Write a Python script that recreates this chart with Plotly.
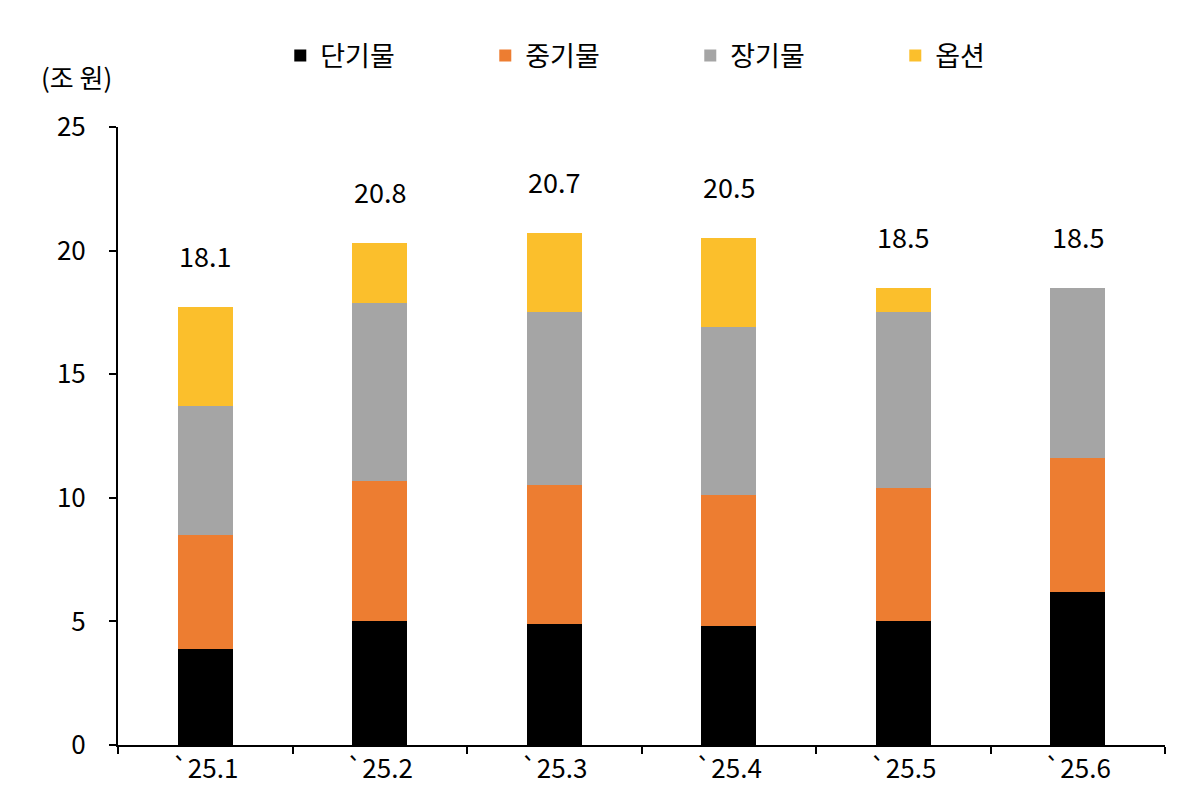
import plotly.graph_objects as go

months = ['`25.1', '`25.2', '`25.3', '`25.4', '`25.5', '`25.6']
short_term = [3.9, 5.0, 4.9, 4.8, 5.0, 6.2]
mid_term = [4.6, 5.7, 5.6, 5.3, 5.4, 5.4]
long_term = [5.2, 7.2, 7.0, 6.8, 7.1, 6.9]
options = [4.0, 2.4, 3.2, 3.6, 1.0, 0.0]
total_labels = ['18.1', '20.8', '20.7', '20.5', '18.5', '18.5']

font = 'Noto Sans CJK KR'
fig = go.Figure()
for name, vals, col in [('단기물', short_term, '#000000'), ('중기물', mid_term, '#ED7D31'),
                        ('장기물', long_term, '#A5A5A5'), ('옵션', options, '#FBBF2C')]:
    fig.add_trace(go.Bar(x=months, y=vals, name=name, marker=dict(color=col, line=dict(width=0)),
                         width=0.315))

tops = [a + b + c + d for a, b, c, d in zip(short_term, mid_term, long_term, options)]
for m, t, lab in zip(months, tops, total_labels):
    fig.add_annotation(x=m, y=t, text=lab, showarrow=False, yshift=30, yanchor='bottom',
                       font=dict(size=27, color='black', family=font))

fig.add_annotation(xref='paper', yref='paper', x=-0.075, y=1.115, text='(조 원)', showarrow=False,
                   xanchor='left', font=dict(size=26, color='black', family=font))

fig.update_layout(
    barmode='stack', width=1200, height=812, plot_bgcolor='white', paper_bgcolor='white',
    margin=dict(l=110, r=43, t=119, b=75),
    font=dict(family=font, size=26, color='black'),
    showlegend=True,
    legend=dict(orientation='h', x=0.155, y=1.115, xanchor='left', yanchor='middle',
                entrywidth=160, font=dict(size=27), traceorder='normal'),
    xaxis=dict(range=[-0.5, 5.5], showline=True, linecolor='black', linewidth=2,
               ticks='outside', tickson='boundaries', ticklen=7, tickcolor='black', tickwidth=2,
               tickfont=dict(size=26)),
    yaxis=dict(range=[0, 25], dtick=5, showline=True, linecolor='black', linewidth=2,
               ticks='outside', ticklen=7, tickcolor='black', tickwidth=2, showgrid=False,
               zeroline=False, tickfont=dict(size=26), ticklabelstandoff=18),
)
fig.write_html('out.html')
